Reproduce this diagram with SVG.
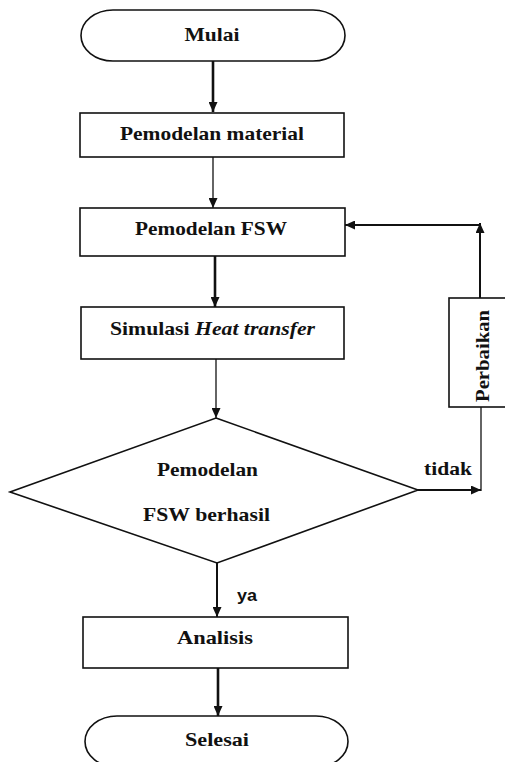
<svg xmlns="http://www.w3.org/2000/svg" width="505" height="762" viewBox="0 0 505 762">
<style>
.shape{fill:#fff;stroke:#111;stroke-width:1.6}
.lbl{font-family:"Liberation Serif","Times New Roman",serif;font-weight:bold;font-size:19px;fill:#111;text-anchor:middle}
.c{fill:none;stroke:#111}
.thick{stroke-width:2.6}
.thin{stroke-width:1.3}
.mid{stroke-width:2}
</style>
<defs>
<marker id="ah" markerUnits="userSpaceOnUse" markerWidth="10" markerHeight="9" refX="10" refY="4.5" orient="auto">
<path d="M0,0 L10,4.5 L0,9 z" fill="#111"/>
</marker>
</defs>
<rect width="505" height="762" fill="#fff"/>
<g id="connectors">
<line class="c thick" x1="213" y1="61" x2="213" y2="112" marker-end="url(#ah)"/>
<line class="c thin" x1="213" y1="157" x2="213" y2="208" marker-end="url(#ah)"/>
<line class="c thick" x1="215" y1="256" x2="215" y2="307" marker-end="url(#ah)"/>
<line class="c thin" x1="216" y1="359" x2="216" y2="418" marker-end="url(#ah)"/>
<line class="c mid" x1="217" y1="563" x2="217" y2="617" marker-end="url(#ah)"/>
<line class="c thick" x1="218" y1="668" x2="218" y2="716" marker-end="url(#ah)"/>
<line class="c mid" x1="418" y1="490" x2="481" y2="490" marker-end="url(#ah)"/>
<line class="c thin" x1="481" y1="407" x2="481" y2="491"/>
<line class="c mid" x1="480" y1="298" x2="480" y2="223" marker-end="url(#ah)"/>
<line class="c mid" x1="481" y1="225" x2="345" y2="225" marker-end="url(#ah)"/>
<text x="448" y="475" class="lbl" textLength="48" lengthAdjust="spacingAndGlyphs">tidak</text>
<text x="247" y="601" font-family="Liberation Sans, Arial, sans-serif" font-weight="bold" font-size="16" fill="#111" text-anchor="middle" textLength="20" lengthAdjust="spacingAndGlyphs">ya</text>
</g>
<g id="mulai">
<rect class="shape" x="81" y="10" width="264" height="51" rx="32" ry="25.5"/>
<text x="212" y="41" class="lbl" textLength="55" lengthAdjust="spacingAndGlyphs">Mulai</text>
</g>
<g id="pemodelan-material">
<rect class="shape" x="80" y="113" width="264" height="44"/>
<text x="212" y="140" class="lbl" textLength="184" lengthAdjust="spacingAndGlyphs">Pemodelan material</text>
</g>
<g id="pemodelan-fsw">
<rect class="shape" x="80" y="208" width="265" height="48"/>
<text x="211" y="235" class="lbl" textLength="152" lengthAdjust="spacingAndGlyphs">Pemodelan FSW</text>
</g>
<g id="simulasi">
<rect class="shape" x="81" y="307" width="263" height="52"/>
<text x="212.5" y="335" class="lbl" textLength="205" lengthAdjust="spacingAndGlyphs">Simulasi <tspan font-style="italic">Heat transfer</tspan></text>
</g>
<g id="keputusan">
<polygon class="shape" points="216,418 418,490 217,563 10,492"/>
<text x="207.5" y="476" class="lbl" textLength="101" lengthAdjust="spacingAndGlyphs">Pemodelan</text>
<text x="206.5" y="521" class="lbl" textLength="127" lengthAdjust="spacingAndGlyphs">FSW berhasil</text>
</g>
<g id="perbaikan">
<rect class="shape" x="449" y="298" width="60" height="109"/>
<text transform="translate(489,356) rotate(-90)" x="0" y="0" class="lbl" font-weight="normal" textLength="92" lengthAdjust="spacingAndGlyphs">Perbaikan</text>
</g>
<g id="analisis">
<rect class="shape" x="83" y="617" width="265" height="51"/>
<text x="215" y="644" class="lbl" textLength="76" lengthAdjust="spacingAndGlyphs">Analisis</text>
</g>
<g id="selesai">
<rect class="shape" x="85" y="716" width="263" height="51" rx="32" ry="25.5"/>
<text x="217" y="746" class="lbl" textLength="64" lengthAdjust="spacingAndGlyphs">Selesai</text>
</g>
</svg>
